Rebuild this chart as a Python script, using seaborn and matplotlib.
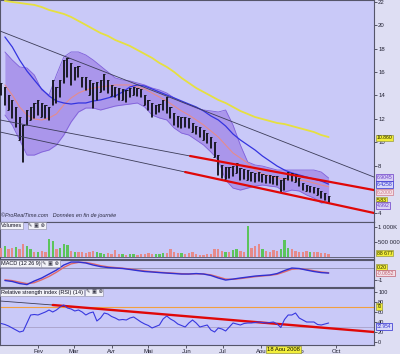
import numpy as np
import pandas as pd
import matplotlib
matplotlib.use("Agg")
import matplotlib.pyplot as plt
import matplotlib.dates as mdates
import matplotlib.transforms as mtrans
import seaborn as sns

sns.set_style("white")
plt.rcParams['font.family'] = ['Liberation Sans', 'DejaVu Sans']

# ---------------- data ----------------
price_dates = pd.date_range("2008-01-02", periods=90, freq="3D")
price_high = [15.07, 14.73, 14.04, 13.62, 13.02, 12.16, 11.48, 12.76, 13.02, 13.36,
              13.62, 13.36, 13.19, 13.02, 15.32, 14.73, 15.32, 17.03, 17.21, 16.78,
              16.44, 16.52, 15.58, 15.58, 15.32, 15.07, 15.15, 15.32, 15.84, 15.32,
              14.90, 14.73, 14.64, 14.56, 14.47, 14.64, 14.73, 14.64, 14.56, 14.04,
              13.62, 13.36, 13.19, 13.27, 13.62, 13.87, 13.02, 12.50, 12.25, 12.16,
              12.16, 12.08, 11.65, 11.39, 11.31, 11.05, 10.79, 10.45, 10.03, 8.91,
              8.06, 7.89, 7.89, 7.97, 8.23, 7.80, 7.72, 7.63, 7.46, 7.38,
              7.46, 7.29, 7.21, 7.21, 7.12, 7.12, 6.78, 6.95, 7.46, 7.38,
              7.29, 6.95, 6.52, 6.35, 6.26, 6.18, 6.09, 5.84, 5.67, 5.41]
price_low = [14.04, 13.19, 12.76, 12.08, 11.31, 10.20, 8.32, 11.48, 11.91, 12.08,
             12.33, 12.16, 12.08, 11.91, 13.19, 13.36, 13.87, 15.07, 15.58, 14.90,
             15.32, 15.58, 14.73, 14.47, 14.04, 12.93, 13.62, 14.30, 14.47, 14.21,
             13.96, 13.87, 13.62, 13.62, 13.44, 13.87, 14.04, 13.96, 13.87, 13.19,
             12.76, 12.16, 12.42, 12.59, 12.76, 12.50, 12.08, 11.48, 11.31, 11.22,
             11.31, 11.22, 10.88, 10.71, 10.45, 10.20, 9.94, 9.51, 8.74, 7.21,
             6.95, 6.86, 6.95, 7.12, 7.38, 6.78, 6.86, 6.78, 6.69, 6.61,
             6.69, 6.61, 6.52, 6.52, 6.44, 6.35, 5.75, 5.92, 6.78, 6.69,
             6.61, 6.26, 5.92, 5.84, 5.75, 5.67, 5.50, 5.24, 5.07, 4.81]
volume_k = [300, 350, 250, 300, 320, 280, 420, 350, 250, 180,
            150, 200, 170, 600, 520, 250, 300, 430, 400, 200,
            180, 160, 150, 140, 170, 200, 150, 130, 110, 120,
            90, 220, 100, 90, 80, 90, 110, 80, 90, 100,
            120, 110, 90, 100, 120, 130, 270, 150, 120, 130,
            110, 140, 160, 100, 80, 70, 90, 100, 250, 270,
            200, 180, 150, 220, 260, 200, 180, 1050, 300, 350,
            420, 250, 200, 180, 220, 200, 250, 570, 300, 250,
            200, 180, 150, 200, 180, 150, 160, 140, 120, 90]
volume_dir = list("RGRRGRRGGR" "GRRGGRGGGR" "GRRRRRGGGR" "RRRGRGGRRR" "RRGGGRRRRG"
                  "RRRRRRRRRR" "RGRGGRRGRR" "RGRRRRGGGR" "RRRRGRRRRR")
rsi14 = [37, 35, 32, 28, 24, 20, 22, 38, 54, 55,
         54, 57, 60, 64, 60, 64, 70, 74, 68, 66,
         62, 64, 60, 54, 58, 60, 42, 48, 58, 56,
         51, 48, 44, 45, 44, 48, 50, 45, 40, 36,
         33, 28, 31, 34, 46, 52, 46, 42, 36, 33,
         30, 38, 44, 38, 30, 32, 34, 24, 20, 28,
         26, 22, 30, 38, 36, 34, 37, 38, 38, 39,
         40, 39, 38, 39, 40, 36, 29, 45, 54, 54,
         58, 48, 44, 40, 40, 40, 35, 34, 36, 38]

ind_dates = pd.date_range("2008-01-05", periods=45, freq="6D")
bb_upper = [17.72, 17.03, 16.44, 16.35, 15.75, 14.47, 14.04, 15.75, 17.29, 17.72,
            17.72, 17.46, 17.03, 16.52, 16.01, 15.50, 15.32, 15.24, 15.07, 14.90,
            14.64, 14.47, 14.21, 13.79, 13.44, 13.19, 12.93, 12.76, 12.68, 12.59,
            12.76, 11.48, 9.77, 8.32, 8.06, 7.97, 7.80, 7.63, 7.63, 7.63,
            7.63, 7.63, 7.63, 7.46, 6.95]
bb_middle = [14.90, 14.04, 13.02, 12.33, 11.99, 11.91, 12.08, 12.42, 13.19, 13.79,
             14.21, 14.47, 14.64, 14.73, 14.81, 14.90, 14.90, 14.90, 14.73, 14.56,
             14.21, 13.87, 13.53, 13.10, 12.68, 12.33, 11.91, 11.48, 10.97, 10.45,
             9.77, 9.09, 8.66, 8.23, 7.63, 7.29, 7.12, 6.95, 6.86, 6.78,
             6.78, 6.69, 6.52, 6.35, 6.20]
bb_lower = [12.33, 11.48, 10.20, 8.91, 8.91, 9.17, 9.34, 9.77, 10.62, 11.74,
            12.59, 12.93, 12.93, 12.76, 12.93, 13.10, 13.19, 13.27, 13.36, 13.02,
            12.33, 12.08, 11.91, 11.22, 10.79, 10.62, 10.20, 9.77, 9.17, 8.49,
            6.78, 6.09, 5.92, 6.09, 6.26, 6.35, 6.26, 6.18, 5.75, 5.92,
            5.84, 5.50, 5.24, 4.81, 4.90]
ma_blue = [19.00, 18.15, 17.03, 16.09, 15.32, 14.56, 13.96, 13.53, 13.36, 13.27,
           13.36, 13.36, 13.53, 13.62, 13.79, 13.96, 14.30, 14.73, 14.90, 14.81,
           14.56, 14.30, 14.04, 13.79, 13.53, 13.27, 13.02, 12.68, 12.25, 11.91,
           11.39, 10.71, 10.20, 9.77, 9.34, 8.83, 8.40, 7.97, 7.63, 7.38,
           7.21, 7.03, 6.86, 6.69, 6.43]
ma_yellow = [22.08, 21.99, 21.91, 21.82, 21.74, 21.56, 21.31, 21.14, 20.97, 20.71,
             20.37, 20.03, 19.68, 19.34, 19.09, 18.74, 18.49, 18.23, 17.89, 17.55,
             17.21, 16.78, 16.44, 16.01, 15.50, 15.07, 14.64, 14.30, 13.96, 13.62,
             13.36, 13.02, 12.68, 12.42, 12.16, 11.99, 11.82, 11.65, 11.56, 11.39,
             11.22, 11.05, 10.88, 10.62, 10.45]
macd = [-1.04, -1.12, -1.29, -1.38, -1.08, -0.83, -0.50, -0.17, 0.25, 0.50,
        0.50, 0.42, 0.25, 0.12, 0.04, 0.00, -0.04, -0.12, -0.21, -0.29,
        -0.33, -0.38, -0.42, -0.46, -0.50, -0.50, -0.46, -0.50, -0.62, -0.83,
        -1.00, -0.92, -0.83, -0.75, -0.67, -0.62, -0.58, -0.46, -0.21, 0.00,
        -0.04, -0.17, -0.29, -0.38, -0.42]
macd_signal = [-0.98, -1.05, -1.18, -1.30, -1.22, -0.98, -0.70, -0.35, 0.05, 0.35,
               0.47, 0.46, 0.35, 0.20, 0.10, 0.04, -0.01, -0.08, -0.16, -0.24,
               -0.30, -0.35, -0.39, -0.43, -0.47, -0.49, -0.48, -0.49, -0.57, -0.74,
               -0.92, -0.94, -0.88, -0.80, -0.72, -0.66, -0.61, -0.52, -0.32, -0.10,
               -0.05, -0.12, -0.23, -0.33, -0.39]

trend_top_dates = ["2008-01-01", "2008-11-01"]
trend_top = [19.51, 7.03]
chan_up_gray_dates = ["2008-01-01", "2008-06-04"]
chan_up_gray = [11.91, 8.83]
chan_up_red_dates = ["2008-06-04", "2008-11-01"]
chan_up_red = [8.83, 5.92]
chan_lo_gray_dates = ["2008-01-01", "2008-05-31"]
chan_lo_gray = [10.88, 7.46]
chan_lo_red_dates = ["2008-05-31", "2008-11-01"]
chan_lo_red = [7.46, 3.96]
rsi_tr_gray_dates = ["2008-01-01", "2008-02-13"]
rsi_tr_gray = [82, 74]
rsi_tr_red_dates = ["2008-02-13", "2008-11-01"]
rsi_tr_red = [74, 20]

month_labels = ["Fev", "Mar", "Avr", "Mai", "Jun", "Jul", "Aou", "Sep", "Oct"]
month_dates = ["2008-02-01", "2008-03-01", "2008-04-01", "2008-05-01", "2008-06-01",
               "2008-07-01", "2008-08-01", "2008-09-01", "2008-10-01"]
price_ticks = [4, 8, 10, 12, 14, 16, 18, 20, 22]

# ---------------- helpers ----------------
def dn(d):
    return mdates.date2num(pd.to_datetime(d))

px = dn(price_dates)
ix = dn(ind_dates)
x0, x1 = dn("2008-01-01"), dn("2008-11-01")

BG = "#c9c9f8"
FIGBG = "#dedef3"
SPINE = "#55556a"

fig = plt.figure(figsize=(4.0, 3.54), dpi=100, facecolor=FIGBG)
W = 374 / 400
ax_p = fig.add_axes([0, 1 - 222 / 354, W, 222 / 354])
ax_v = fig.add_axes([0, 1 - 259 / 354, W, 37 / 354])
ax_m = fig.add_axes([0, 1 - 287 / 354, W, 27 / 354])
ax_r = fig.add_axes([0, 1 - 345 / 354, W, 57 / 354])

for ax in (ax_p, ax_v, ax_m, ax_r):
    ax.set_facecolor(BG)
    ax.set_xlim(x0, x1)
    ax.yaxis.tick_right()
    ax.tick_params(axis="y", labelsize=4.3, length=2, width=0.5, pad=1,
                   colors="#222233", direction="out")
    ax.tick_params(axis="x", bottom=False, labelbottom=False)
    for s in ax.spines.values():
        s.set_color(SPINE)
        s.set_linewidth(0.8)


def rlabel(ax, y, text, fc, tc, ec, size=3.7):
    tr = mtrans.blended_transform_factory(ax.transAxes, ax.transData)
    ax.text(1.007, y, text, transform=tr, fontsize=size, color=tc, ha="left",
            va="center", clip_on=False, zorder=20,
            bbox=dict(boxstyle="square,pad=0.12", fc=fc, ec=ec, lw=0.5))


def title(ax, text, icon_x):
    ax.text(0.003, 0.97, text, transform=ax.transAxes, ha="left", va="top",
            fontsize=4.0, color="#111122", zorder=20,
            bbox=dict(boxstyle="square,pad=0.2", fc="#f2f2f8", ec="#8a8aa0", lw=0.4))
    ax.text(icon_x, 0.97, "\u270e \u25a3 \u2297", transform=ax.transAxes, ha="left",
            va="top", fontsize=3.8, color="#333344", family="DejaVu Sans", zorder=20,
            bbox=dict(boxstyle="square,pad=0.15", fc="#f2f2f8", ec="#8a8aa0", lw=0.4))

# ---------------- price panel ----------------
ax_p.set_ylim(3.19, 22.16)
ax_p.fill_between(ix, bb_lower, bb_upper, color="#a68fea", alpha=0.88, lw=0, zorder=1)
sns.lineplot(x=ix, y=bb_upper, ax=ax_p, color="#8060da", lw=0.6, zorder=2)
sns.lineplot(x=ix, y=bb_lower, ax=ax_p, color="#8060da", lw=0.6, zorder=2)
sns.lineplot(x=ix, y=bb_middle, ax=ax_p, color="#e58c8c", lw=0.8, zorder=3)
sns.lineplot(x=ix, y=ma_yellow, ax=ax_p, color="#e6e040", lw=1.3, zorder=3)
sns.lineplot(x=ix, y=ma_blue, ax=ax_p, color="#3434e0", lw=0.9, zorder=3)
ax_p.vlines(px, price_low, price_high, color="#15151f", lw=1.35, zorder=4)
ax_p.hlines(price_low, px - 1.0, px, color="#15151f", lw=0.7, zorder=4)
ax_p.hlines(price_high, px, px + 1.0, color="#15151f", lw=0.7, zorder=4)
sns.lineplot(x=dn(trend_top_dates), y=trend_top, ax=ax_p, color="#3c3c58", lw=0.6, zorder=5)
sns.lineplot(x=dn(chan_up_gray_dates), y=chan_up_gray, ax=ax_p, color="#3c3c58", lw=0.6, zorder=5)
sns.lineplot(x=dn(chan_lo_gray_dates), y=chan_lo_gray, ax=ax_p, color="#3c3c58", lw=0.6, zorder=5)
sns.lineplot(x=dn(chan_up_red_dates), y=chan_up_red, ax=ax_p, color="#e00808", lw=1.6, zorder=6)
sns.lineplot(x=dn(chan_lo_red_dates), y=chan_lo_red, ax=ax_p, color="#e00808", lw=1.6, zorder=6)
ax_p.set_yticks(price_ticks)
ax_p.set_yticklabels([str(t) for t in price_ticks])
ax_p.text(0.003, 0.018, "\u00a9ProRealTime.com   Donn\u00e9es en fin de journ\u00e9e",
          transform=ax_p.transAxes, fontsize=3.9, style="italic", color="#2a2a40",
          ha="left", va="bottom", zorder=20)
rlabel(ax_p, 10.37, "10.860", "#f2ee3a", "#222200", "#9a9a40")
rlabel(ax_p, 6.99, "6.9045", "#d8d0f6", "#6a3cc8", "#6a3cc8")
rlabel(ax_p, 6.39, "6.4258", "#d8d8f8", "#2c2cd0", "#2c2cd0")
rlabel(ax_p, 5.75, "6.2000", "#f3dfe6", "#d07a8a", "#d07a8a")
rlabel(ax_p, 5.03, "5.83", "#f2ee3a", "#222200", "#9a9a40")
rlabel(ax_p, 4.60, "4.992", "#d8d0f6", "#6a3cc8", "#6a3cc8")

# ---------------- volume panel ----------------
vcol = ["#5cc45c" if d == "G" else "#e68a8a" for d in volume_dir]
ax_v.bar(px, np.array(volume_k) * 1000, width=1.9, color=vcol, lw=0, zorder=3)
ax_v.set_ylim(-67000, 1167000)
ax_v.set_yticks([500000, 1000000])
ax_v.set_yticklabels(["500 000", "1 000K"])
ax_v.axhline(0, color="#555566", lw=0.6, zorder=4)
title(ax_v, "Volumes", 0.076)
rlabel(ax_v, 133000, "88 677", "#f2ee3a", "#222200", "#9a9a40")

# ---------------- MACD panel ----------------
ax_m.set_ylim(-1.58, 0.67)
ax_m.axhline(0, color="#8888a8", lw=0.6, zorder=2)
sns.lineplot(x=ix, y=macd_signal, ax=ax_m, color="#e06a6a", lw=1.0, zorder=3)
sns.lineplot(x=ix, y=macd, ax=ax_m, color="#3030d2", lw=1.0, zorder=4)
ax_m.set_yticks([-1])
ax_m.set_yticklabels(["-1"])
title(ax_m, "MACD (12 26 9)", 0.113)
rlabel(ax_m, 0.08, "0.20", "#f2ee3a", "#222200", "#9a9a40")
rlabel(ax_m, -0.42, "-0.0652", "#f3dfe6", "#c06070", "#c06070")

# ---------------- RSI panel ----------------
ax_r.set_ylim(-6, 108)
ax_r.axhline(70, color="#f0a040", lw=0.8, zorder=2)
ax_r.axhline(30, color="#a8a0c8", lw=0.6, zorder=2)
sns.lineplot(x=dn(rsi_tr_gray_dates), y=rsi_tr_gray, ax=ax_r, color="#3c3c58", lw=0.6, zorder=3)
sns.lineplot(x=dn(rsi_tr_red_dates), y=rsi_tr_red, ax=ax_r, color="#e00808", lw=1.7, zorder=3)
sns.lineplot(x=px, y=rsi14, ax=ax_r, color="#3838e0", lw=0.8, zorder=4)
ax_r.set_yticks([0, 20, 40, 60, 80, 100])
ax_r.set_yticklabels(["0", "20", "40", "60", "80", "100"])
ax_r.tick_params(axis="y", labelsize=4.0)
title(ax_r, "Relative strength index (RSI) (14)", 0.229)
rlabel(ax_r, 71, "70", "#f2ee3a", "#222200", "#9a9a40", size=3.3)
rlabel(ax_r, 31, "32.954", "#d8d8f8", "#2c2cd0", "#2c2cd0", size=3.3)

ax_r.set_xticks(dn(month_dates))
ax_r.set_xticklabels(month_labels)
ax_r.tick_params(axis="x", bottom=True, labelbottom=True, labelsize=4.3, length=2,
                 width=0.5, pad=1, colors="#222233")
ax_r.text(dn("2008-08-19"), -0.04, "18 Aou 2008", transform=mtrans.blended_transform_factory(
    ax_r.transData, ax_r.transAxes), ha="center", va="top", fontsize=4.2, color="#111100",
    zorder=30, clip_on=False,
    bbox=dict(boxstyle="square,pad=0.15", fc="#f2ee3a", ec="#9a9a40", lw=0.5))

for ax in (ax_p, ax_v, ax_m, ax_r):
    ax.set_xlim(x0, x1)
    ax.set_xlabel("")
    ax.set_ylabel("")
    leg = ax.get_legend()
    if leg:
        leg.remove()

fig.savefig("out.png", dpi=100, facecolor=FIGBG)
